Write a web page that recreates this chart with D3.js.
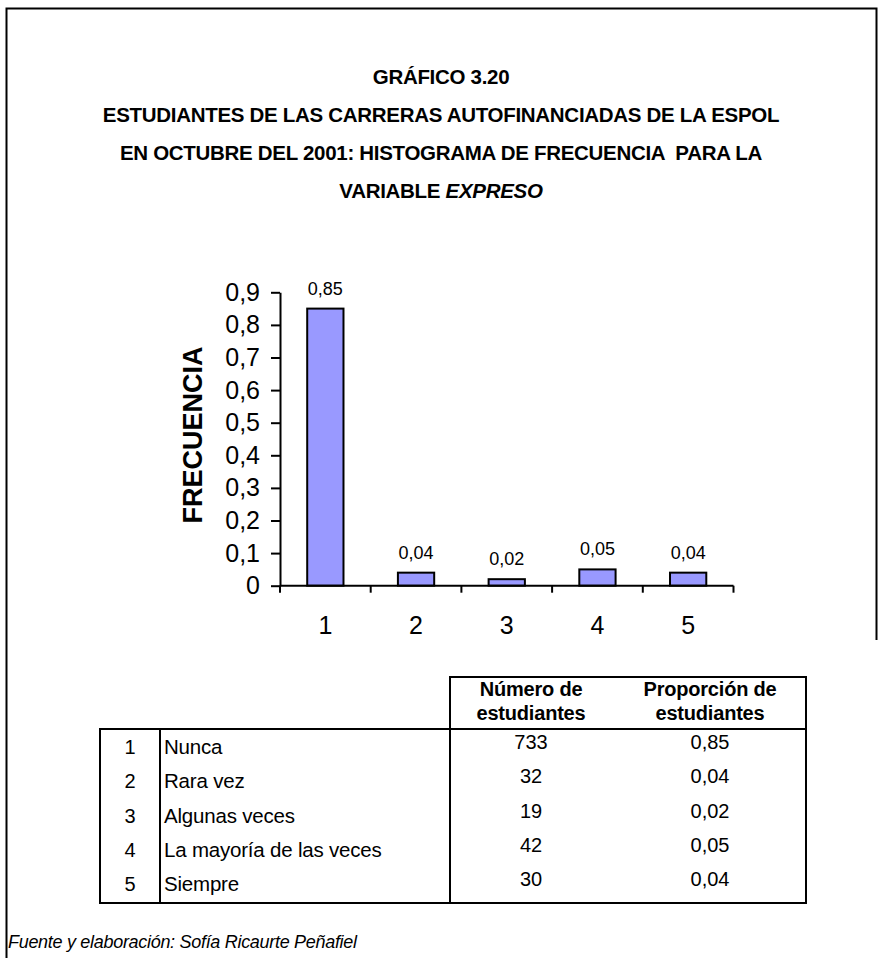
<!DOCTYPE html>
<html>
<head>
<meta charset="utf-8">
<script src="https://cdn.jsdelivr.net/npm/d3@7"></script>
<style>
  html, body { margin: 0; padding: 0; background: #fff; }
  svg { display: block; font-family: "Liberation Sans", Arial, sans-serif; }
</style>
</head>
<body>
<div id="chart"></div>
<script>
// ---------- data ----------
const categories = ["1", "2", "3", "4", "5"];
const frequencies = [0.85, 0.04, 0.02, 0.05, 0.04];
const valueLabels = ["0,85", "0,04", "0,02", "0,05", "0,04"];
const yTickValues = [0, 0.1, 0.2, 0.3, 0.4, 0.5, 0.6, 0.7, 0.8, 0.9];
const tableLabels = ["Nunca", "Rara vez", "Algunas veces", "La mayoría de las veces", "Siempre"];
const studentCounts = [733, 32, 19, 42, 30];
const studentProportions = ["0,85", "0,04", "0,02", "0,05", "0,04"];
const titleLines = [
  "GRÁFICO 3.20",
  "ESTUDIANTES DE LAS CARRERAS AUTOFINANCIADAS DE LA ESPOL",
  "EN OCTUBRE DEL 2001: HISTOGRAMA DE FRECUENCIA  PARA LA"
];
const titleLastPlain = "VARIABLE ";
const titleLastItalic = "EXPRESO";
const yAxisTitle = "FRECUENCIA";
const tableHeaders = [["Número de", "estudiantes"], ["Proporción de", "estudiantes"]];
const footnote = "Fuente y elaboración: Sofía Ricaurte Peñafiel";

// ---------- layout ----------
const W = 882, H = 958;
const svg = d3.select("#chart").append("svg").attr("width", W).attr("height", H);

// frame
svg.append("path")
  .attr("d", `M6.5,958 L6.5,8.5 L876.5,8.5 L876.5,640`)
  .attr("fill", "none").attr("stroke", "#000").attr("stroke-width", 2);

// title
const titleBase = [84, 122, 160];
titleLines.forEach((t, i) => {
  svg.append("text")
    .attr("x", 441).attr("y", titleBase[i])
    .attr("text-anchor", "middle")
    .attr("font-weight", "bold").attr("font-size", 20.5)
    .attr("letter-spacing", -0.3)
    .style("white-space", "pre")
    .text(t);
});
const t4 = svg.append("text")
  .attr("x", 441).attr("y", 198)
  .attr("text-anchor", "middle")
  .attr("font-weight", "bold").attr("font-size", 20.5)
  .attr("letter-spacing", -0.3);
t4.append("tspan").style("white-space", "pre").text(titleLastPlain);
t4.append("tspan").attr("font-style", "italic").text(titleLastItalic);

// ---------- chart ----------
const x = d3.scaleBand().domain(categories).range([280, 733.5])
  .paddingInner(0.6).paddingOuter(0.3);
const y = d3.scaleLinear().domain([0, 0.9]).range([585.7, 292.3]);

const fmt = d3.formatLocale({decimal: ",", thousands: ".", grouping: [3], currency: ["", ""]}).format(".1~f");

// bars
svg.append("g").selectAll("rect")
  .data(categories)
  .join("rect")
  .attr("x", d => x(d))
  .attr("width", x.bandwidth())
  .attr("y", (d, i) => y(frequencies[i]))
  .attr("height", (d, i) => y(0) - y(frequencies[i]))
  .attr("fill", "#9999FF")
  .attr("stroke", "#000")
  .attr("stroke-width", 2);

// value labels
svg.append("g").selectAll("text")
  .data(categories)
  .join("text")
  .attr("x", d => x(d) + x.bandwidth() / 2)
  .attr("y", (d, i) => y(frequencies[i]) - 14)
  .attr("text-anchor", "middle")
  .attr("font-size", 18)
  .text((d, i) => valueLabels[i]);

// y axis
const yAxis = svg.append("g")
  .attr("transform", "translate(280,0)")
  .call(d3.axisLeft(y).tickValues(yTickValues).tickFormat(fmt).tickSize(9).tickSizeOuter(0).tickPadding(11));
yAxis.select(".domain").attr("stroke", "#000").attr("stroke-width", 2);
yAxis.selectAll(".tick line").attr("stroke", "#000").attr("stroke-width", 2);
yAxis.selectAll(".tick text")
  .attr("font-size", 25).attr("fill", "#000")
  .attr("font-family", "'Liberation Sans', Arial, sans-serif");

// x axis line
const xRange = x.range();
svg.append("line")
  .attr("x1", xRange[0]).attr("x2", xRange[1])
  .attr("y1", y(0)).attr("y2", y(0))
  .attr("stroke", "#000").attr("stroke-width", 2);

// x tick marks at category boundaries
const step = x.step();
const boundaries = categories.map(c => x(c) + x.bandwidth() / 2 - step / 2).concat([xRange[1]]);
svg.append("g").selectAll("line")
  .data(boundaries)
  .join("line")
  .attr("x1", d => d).attr("x2", d => d)
  .attr("y1", y(0)).attr("y2", y(0) + 7)
  .attr("stroke", "#000").attr("stroke-width", 2);

// category labels
svg.append("g").selectAll("text")
  .data(categories)
  .join("text")
  .attr("x", d => x(d) + x.bandwidth() / 2)
  .attr("y", 634)
  .attr("text-anchor", "middle")
  .attr("font-size", 25)
  .text(d => d);

// y axis title
svg.append("text")
  .attr("transform", "translate(202,435) rotate(-90)")
  .attr("text-anchor", "middle")
  .attr("font-weight", "bold")
  .attr("font-size", 27)
  .text(yAxisTitle);

// ---------- table ----------
const tbl = svg.append("g").attr("stroke", "#000").attr("stroke-width", 2).attr("fill", "none");
// header box
tbl.append("path").attr("d", "M450,729 L450,677 L806,677 L806,729");
// body
tbl.append("rect").attr("x", 100).attr("y", 729).attr("width", 706).attr("height", 174);
tbl.append("line").attr("x1", 160).attr("x2", 160).attr("y1", 729).attr("y2", 903);
tbl.append("line").attr("x1", 450).attr("x2", 450).attr("y1", 729).attr("y2", 903);

const colCenters = [531, 710];
tableHeaders.forEach((lines, ci) => {
  lines.forEach((ln, li) => {
    svg.append("text")
      .attr("x", colCenters[ci]).attr("y", 696 + li * 24)
      .attr("text-anchor", "middle")
      .attr("font-weight", "bold").attr("font-size", 20)
      .attr("letter-spacing", -0.2)
      .text(ln);
  });
});

const rowBase = d3.scaleLinear().domain([0, 4]).range([749, 886]);
const rows = svg.append("g");
tableLabels.forEach((lab, i) => {
  rows.append("text").attr("x", 130).attr("y", rowBase(i) + 5)
    .attr("text-anchor", "middle").attr("font-size", 20).text(categories[i]);
  rows.append("text").attr("x", 164).attr("y", rowBase(i) + 5)
    .attr("font-size", 20.5).attr("letter-spacing", -0.2).text(lab);
  rows.append("text").attr("x", colCenters[0]).attr("y", rowBase(i))
    .attr("text-anchor", "middle").attr("font-size", 20).text(studentCounts[i]);
  rows.append("text").attr("x", colCenters[1]).attr("y", rowBase(i))
    .attr("text-anchor", "middle").attr("font-size", 20).text(studentProportions[i]);
});

// footnote
svg.append("text")
  .attr("x", 8).attr("y", 948)
  .attr("font-style", "italic").attr("font-size", 18)
  .attr("letter-spacing", -0.3)
  .text(footnote);
</script>
</body>
</html>
